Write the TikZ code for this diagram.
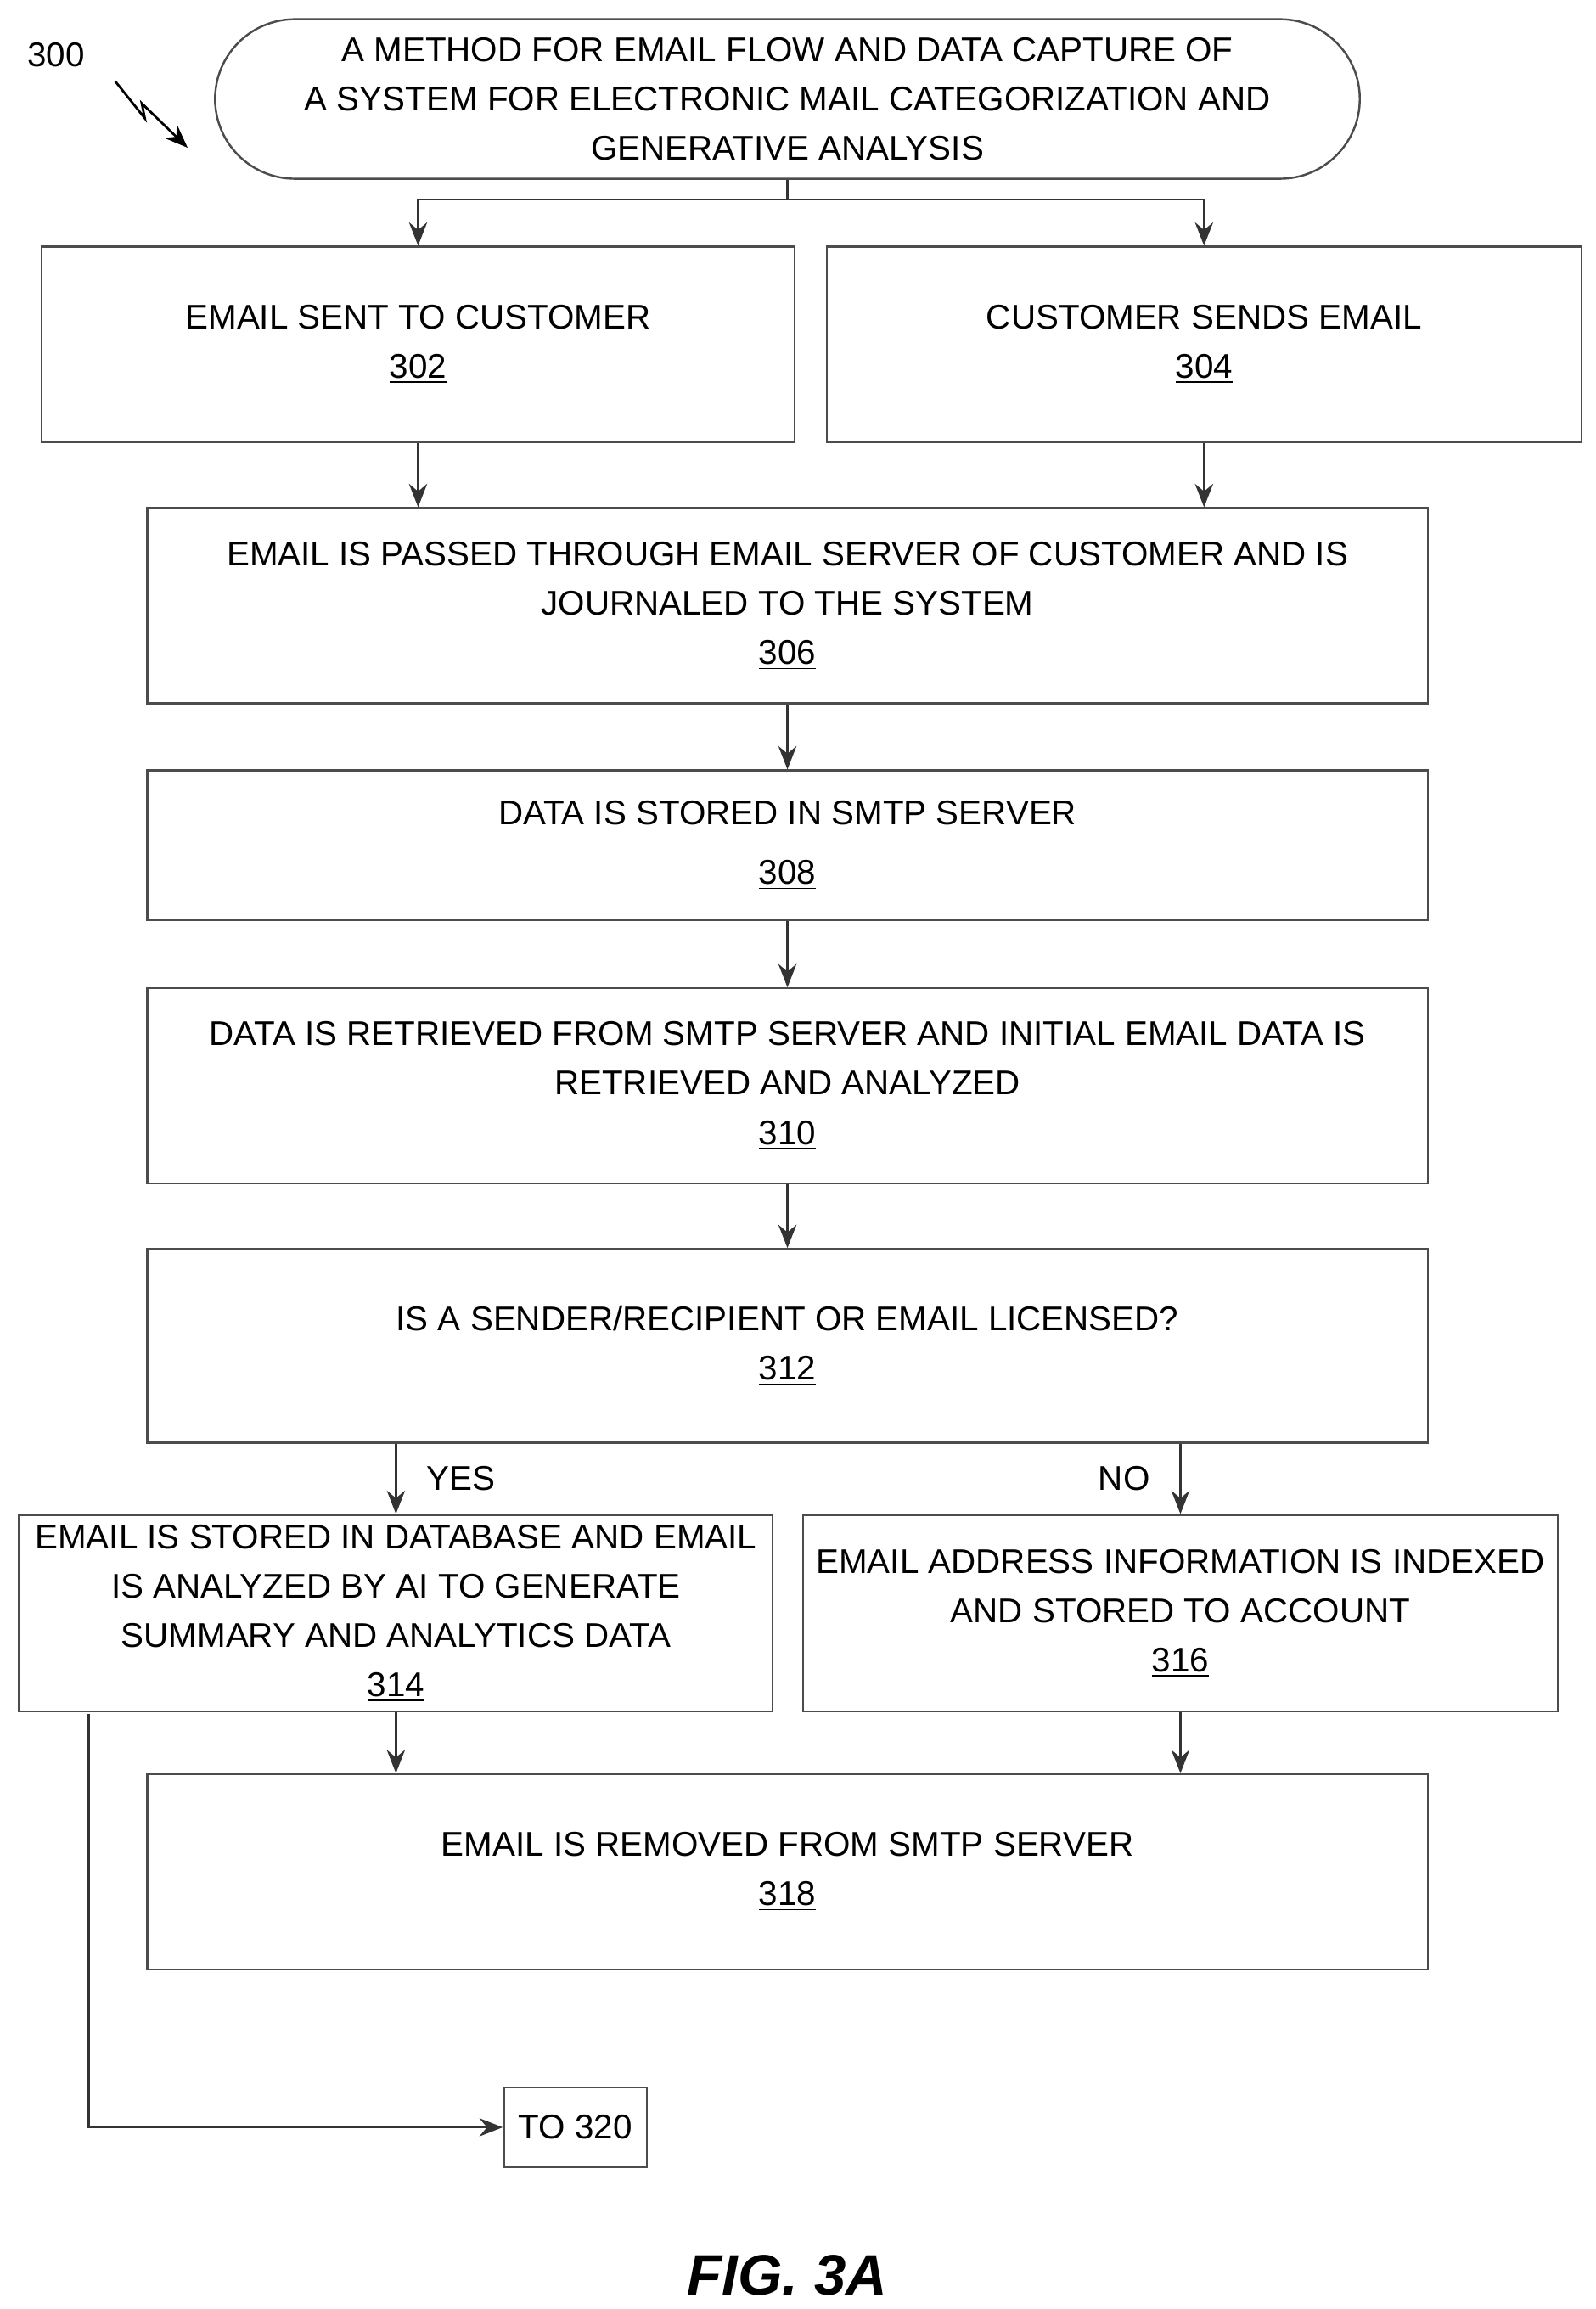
\documentclass[tikz,border=0pt]{standalone}
\usepackage{fontspec}
\setmainfont{Liberation Sans}
\usetikzlibrary{arrows.meta,positioning}

\begin{document}
\begin{tikzpicture}[x=0.02cm,y=-0.02cm,
    box/.style={draw=black!70,line width=0.8pt,align=center,inner sep=0pt,
        font=\fontsize{13.2}{19}\selectfont},
    flow/.style={draw=black!80,line width=0.9pt,-{Stealth[length=9pt,width=7pt]}}]
    \useasboundingbox (0,0) rectangle (1080,1563);
    \node[box,minimum width=15.5cm,minimum height=2.16cm,rounded corners=1.08cm] (start) at (533,67)
        {A METHOD FOR EMAIL FLOW AND DATA CAPTURE OF\\A SYSTEM FOR ELECTRONIC MAIL CATEGORIZATION AND\\GENERATIVE ANALYSIS};
    \node[font=\fontsize{13.2}{19}\selectfont] (lbl) at (38,37) {300};
    \draw[line width=0.9pt,-{Stealth[length=9pt,width=7pt]}] (78,55) -- (98,80) -- (96,70) -- (127,100);
    \node[box,minimum width=10.2cm,minimum height=2.64cm] (s302) at (283,233) {EMAIL SENT TO CUSTOMER\\\underline{302}};
    \node[box,minimum width=10.22cm,minimum height=2.64cm] (s304) at (815,233) {CUSTOMER SENDS EMAIL\\\underline{304}};
    \node[box,minimum width=17.34cm,minimum height=2.64cm] (s306) at (533,410) {EMAIL IS PASSED THROUGH EMAIL SERVER OF CUSTOMER AND IS\\JOURNALED TO THE SYSTEM\\\underline{306}};
    \node[box,minimum width=17.34cm,minimum height=2.02cm] (s308) at (533,572) {DATA IS STORED IN SMTP SERVER\\[4pt]\underline{308}};
    \node[box,minimum width=17.34cm,minimum height=2.64cm] (s310) at (533,735) {DATA IS RETRIEVED FROM SMTP SERVER AND INITIAL EMAIL DATA IS\\RETRIEVED AND ANALYZED\\\underline{310}};
    \node[box,minimum width=17.34cm,minimum height=2.62cm] (s312) at (533,911) {IS A SENDER/RECIPIENT OR EMAIL LICENSED?\\\underline{312}};
    \node[box,minimum width=10.2cm,minimum height=2.66cm] (s314) at (268,1092) {EMAIL IS STORED IN DATABASE AND EMAIL\\IS ANALYZED BY AI TO GENERATE\\SUMMARY AND ANALYTICS DATA\\\underline{314}};
    \node[box,minimum width=10.22cm,minimum height=2.66cm] (s316) at (799,1092) {EMAIL ADDRESS INFORMATION IS INDEXED\\AND STORED TO ACCOUNT\\\underline{316}};
    \node[box,minimum width=17.34cm,minimum height=2.64cm] (s318) at (533,1267) {EMAIL IS REMOVED FROM SMTP SERVER\\\underline{318}};
    \node[box,minimum width=1.94cm,minimum height=1.08cm] (s320) at (389.5,1440) {TO 320};
    \node[font=\fontsize{22}{26}\bfseries\itshape\selectfont] (fig) at (533,1540) {FIG. 3A};
    % connectors
    \coordinate (split) at (533,135);
    \draw[line width=0.9pt,draw=black!80] (start.south) -- (split);
    \draw[flow] (split) -| (s302.north);
    \draw[flow] (split) -| (s304.north);
    \draw[flow] (s302.south) -- (s306.north -| s302.south);
    \draw[flow] (s304.south) -- (s306.north -| s304.south);
    \draw[flow] (s306) -- (s308);
    \draw[flow] (s308) -- (s310);
    \draw[flow] (s310) -- (s312);
    \draw[flow] (s312.south -| s314.north) -- (s314.north) node[midway,right=8pt,font=\fontsize{13.2}{19}\selectfont] {YES};
    \draw[flow] (s312.south -| s316.north) -- (s316.north) node[midway,left=8pt,font=\fontsize{13.2}{19}\selectfont] {NO};
    \draw[flow] (s314.south) -- (s318.north -| s314.south);
    \draw[flow] (s316.south) -- (s318.north -| s316.south);
    \coordinate (down) at (60,1160);
    \draw[flow] (down) |- (s320.west);
\end{tikzpicture}
\end{document}
